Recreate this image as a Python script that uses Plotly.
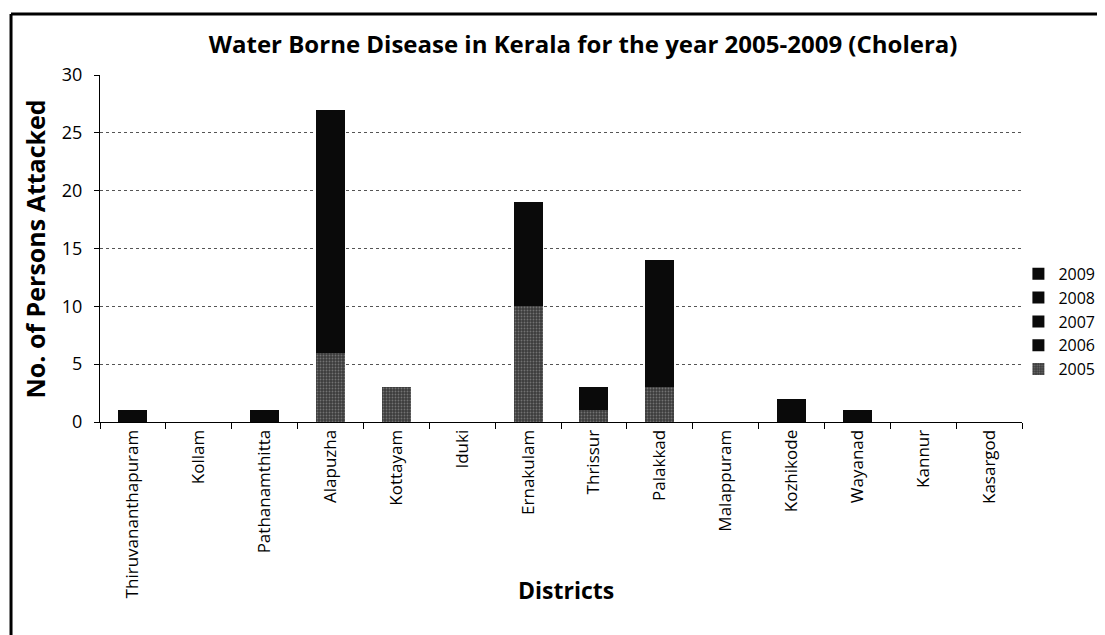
import plotly.graph_objects as go

districts = ["Thiruvananthapuram", "Kollam", "Pathanamthitta", "Alapuzha", "Kottayam",
             "Iduki", "Ernakulam", "Thrissur", "Palakkad", "Malappuram", "Kozhikode",
             "Wayanad", "Kannur", "Kasargod"]
years = ["2005", "2006", "2007", "2008", "2009"]
cases_2005 = [0, 0, 0, 6, 3, 0, 10, 1, 3, 0, 0, 0, 0, 0]
cases_2006 = [0, 0, 0, 0, 0, 0, 0, 0, 0, 0, 0, 0, 0, 0]
cases_2007 = [1, 0, 1, 21, 0, 0, 9, 2, 11, 0, 2, 1, 0, 0]
cases_2008 = [0, 0, 0, 0, 0, 0, 0, 0, 0, 0, 0, 0, 0, 0]
cases_2009 = [0, 0, 0, 0, 0, 0, 0, 0, 0, 0, 0, 0, 0, 0]
series = [cases_2005, cases_2006, cases_2007, cases_2008, cases_2009]

FONT = "Open Sans"
fig = go.Figure()
for yr, vals in zip(years, series):
    if yr == "2005":
        marker = dict(color="#3c3c3c",
                      pattern=dict(shape=".", fgcolor="#a8a8a8", bgcolor="#3c3c3c",
                                   size=3, solidity=0.3))
    else:
        marker = dict(color="#0a0a0a")
    fig.add_trace(go.Bar(x=districts, y=vals, name=yr, marker=marker,
                         marker_line_width=0))

fig.update_layout(
    width=1105, height=635,
    barmode="stack", bargap=0.56,
    plot_bgcolor="white", paper_bgcolor="white",
    margin=dict(l=92, r=91, t=67, b=221, autoexpand=False),
    font=dict(family=FONT, color="black"),
    showlegend=True,
    legend=dict(xref="container", yref="container", x=0.9144, y=0.608,
                xanchor="left", yanchor="top",
                traceorder="reversed", font=dict(size=16, family=FONT),
                itemwidth=30, bgcolor="rgba(0,0,0,0)"),
    title=dict(text="<b>Water Borne Disease in Kerala for the year 2005-2009 (Cholera)</b>",
               x=0.524, xref="paper", xanchor="center", y=0.9417, yanchor="middle",
               font=dict(size=24, family=FONT, color="black")),
)
fig.update_yaxes(range=[0, 30], dtick=5, showline=True, linecolor="black", linewidth=1,
                 ticks="outside", ticklen=5, tickcolor="black", automargin=False,
                 showgrid=True, gridcolor="#555", griddash="dot", gridwidth=1,
                 tickfont=dict(size=18, family=FONT), zeroline=False, ticklabelstandoff=8)
fig.update_xaxes(showline=True, linecolor="black", linewidth=1, tickson="boundaries",
                 ticks="outside", ticklen=6, tickcolor="black", tickangle=-90, automargin=False,
                 tickfont=dict(size=17, family=FONT), showgrid=False)

fig.add_annotation(text="<b>No. of Persons Attacked</b>", xref="paper", yref="paper",
                   x=-0.0705, y=0.5, xanchor="center", yanchor="middle",
                   textangle=-90, showarrow=False,
                   font=dict(size=25, family=FONT, color="black"))
fig.add_annotation(text="<b>Districts</b>", xref="paper", yref="paper",
                   x=0.505, y=-0.484, xanchor="center", yanchor="middle", showarrow=False,
                   font=dict(size=23, family=FONT, color="black"))

# frame (left and top edges)
fig.add_shape(type="line", xref="paper", yref="paper", x0=-0.0965, x1=1.2, y0=1.176, y1=1.176,
              line=dict(color="black", width=3))
fig.add_shape(type="line", xref="paper", yref="paper", x0=-0.0965, x1=-0.0965, y0=1.176, y1=-0.7,
              line=dict(color="black", width=3))

fig.write_html("out.html")
